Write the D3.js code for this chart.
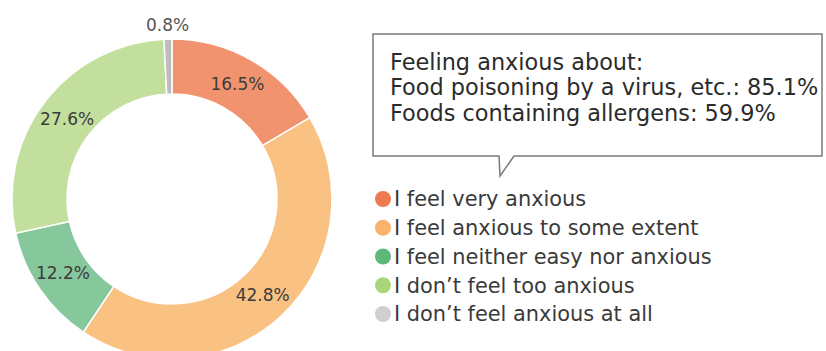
<!DOCTYPE html>
<html>
<head>
<meta charset="utf-8">
<script src="https://cdn.jsdelivr.net/npm/d3@7"></script>
<style>
  body { margin: 0; background: #fff; }
  text { font-family: "DejaVu Sans", sans-serif; }
</style>
</head>
<body>
<div class="svg-container"></div>
<script>
let categories = ['I feel very anxious', 'I feel anxious to some extent', 'I feel neither easy nor anxious', "I don\u2019t feel too anxious", "I don\u2019t feel anxious at all"]
let shares = [16.5, 42.8, 12.2, 27.6, 0.8]
let calloutLines = ['Feeling anxious about:', 'Food poisoning by a virus, etc.: 85.1%', 'Foods containing allergens: 59.9%']

let sliceColors = ['#f2936f', '#f9c283', '#86c79b', '#c3df9e', '#bdbdbd']
let dotColors = ['#ef7a52', '#f8b36c', '#5db97a', '#a9d67b', '#cfcfd1']

let width = 826
let height = 351
let cx = 172
let cy = 199
let outerR = 160
let innerR = 105

let svg = d3.select('.svg-container')
  .append('svg')
  .attr('width', width)
  .attr('height', height)

let pie = d3.pie()
  .sort(null)
  .value(d => d)

let arcs = pie(shares)

let arc = d3.arc()
  .innerRadius(innerR)
  .outerRadius(outerR)

let labelArc = d3.arc()
  .innerRadius(132)
  .outerRadius(132)

let outsideArc = d3.arc()
  .innerRadius(174)
  .outerRadius(174)

let donut = svg.append('g')
  .attr('transform', `translate(${cx}, ${cy})`)

donut.selectAll('path')
  .data(arcs)
  .enter()
  .append('path')
  .attr('d', arc)
  .attr('fill', (d, i) => sliceColors[i])
  .attr('stroke', '#fff')
  .attr('stroke-width', 1.5)

donut.selectAll('text')
  .data(arcs)
  .enter()
  .append('text')
  .attr('transform', d => {
    let p = d.value < 2 ? outsideArc.centroid(d) : labelArc.centroid(d)
    return `translate(${p[0]}, ${p[1]})`
  })
  .attr('dy', '0.35em')
  .style('text-anchor', 'middle')
  .style('font-size', '17px')
  .attr('fill', d => d.value < 2 ? '#555' : '#3b3b3b')
  .text(d => `${d.value}%`)

// speech bubble
let bx0 = 373, by0 = 34, bx1 = 822, by1 = 156
let tailL = 499, tailR = 514, tailY = 176
svg.append('path')
  .attr('d', `M${bx0},${by0} H${bx1} V${by1} H${tailR} L${tailL + 1},${tailY} L${tailL},${by1} H${bx0} Z`)
  .attr('fill', '#fff')
  .attr('stroke', '#7a7a7a')
  .attr('stroke-width', 1.5)

svg.selectAll('.callout')
  .data(calloutLines)
  .enter()
  .append('text')
  .attr('class', 'callout')
  .attr('x', 390)
  .attr('y', (d, i) => 62 + i * 25.5)
  .attr('dy', '0.35em')
  .style('font-size', '22.4px')
  .attr('fill', '#2b2b2b')
  .text(d => d)

// legend
let legendY = d3.scalePoint()
  .domain(categories)
  .range([199, 314])

let legend = svg.selectAll('.legend')
  .data(categories)
  .enter()
  .append('g')
  .attr('class', 'legend')
  .attr('transform', d => `translate(383, ${legendY(d)})`)

legend.append('circle')
  .attr('r', 8)
  .attr('fill', (d, i) => dotColors[i])

legend.append('text')
  .attr('x', 11)
  .attr('dy', '0.35em')
  .style('font-size', '20.9px')
  .attr('fill', '#3a3a3a')
  .text(d => d)
</script>
</body>
</html>
